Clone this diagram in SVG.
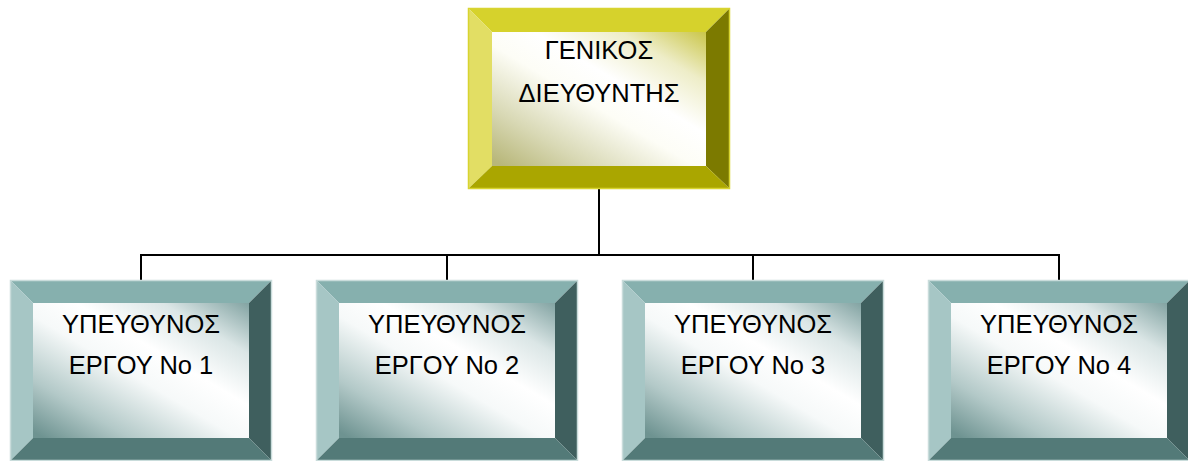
<svg xmlns="http://www.w3.org/2000/svg" width="1188" height="461" viewBox="0 0 1188 461">
  <style>
    .lbl { font-family: "Liberation Sans", "DejaVu Sans", sans-serif; font-size: 25.5px; fill: #000; text-anchor: middle; }
    .wire { fill: none; stroke: #000; stroke-width: 2; }
    .y-top { fill: #d6d22c; }
    .y-left { fill: #e2de64; }
    .y-right { fill: #7c7a00; }
    .y-bot { fill: #aaa600; }
    .y-face { fill: url(#faceYellow); }
    .y-edge { fill: none; stroke: #d8d430; stroke-width: 1.5; }
    .t-top { fill: #86b0ae; }
    .t-left { fill: #a6c6c5; }
    .t-right { fill: #3f5f5e; }
    .t-bot { fill: #537a78; }
    .t-face { fill: url(#faceTeal); }
    .t-edge { fill: none; stroke: #c9dcdb; stroke-width: 1.5; }
  </style>
  <defs>
    <!-- bevel face shading: tinted toward the upper-right and lower-left corners -->
    <linearGradient id="faceYellow" x1="0.05" y1="1" x2="1" y2="0">
      <stop offset="0" stop-color="#b8b77a"/>
      <stop offset="0.2" stop-color="#d8d8b4"/>
      <stop offset="0.45" stop-color="#fdfdf6"/>
      <stop offset="0.6" stop-color="#ffffff"/>
      <stop offset="0.8" stop-color="#eeedc8"/>
      <stop offset="1" stop-color="#cac64a"/>
    </linearGradient>
    <linearGradient id="faceTeal" x1="0.05" y1="1" x2="1" y2="0">
      <stop offset="0" stop-color="#6e9391"/>
      <stop offset="0.2" stop-color="#b3c9c8"/>
      <stop offset="0.45" stop-color="#f6f9f9"/>
      <stop offset="0.6" stop-color="#ffffff"/>
      <stop offset="0.8" stop-color="#dbe6e6"/>
      <stop offset="1" stop-color="#82a3a2"/>
    </linearGradient>
  </defs>

  <rect width="1188" height="461" fill="#ffffff"/>

  <!-- tree connectors -->
  <g id="connectors">
    <path class="wire" d="M599,189 V255"/>
    <path class="wire" d="M141,255 H1059"/>
    <path class="wire" d="M141,254 V280"/>
    <path class="wire" d="M447,254 V280"/>
    <path class="wire" d="M753,254 V280"/>
    <path class="wire" d="M1059,254 V280"/>
  </g>

  <!-- general manager -->
  <g id="node-director" transform="translate(468,8)">
    <polygon class="y-top" points="0,0 262,0 238,24 24,24"/>
    <polygon class="y-left" points="0,0 24,24 24,158 0,181"/>
    <polygon class="y-right" points="262,0 262,181 238,158 238,24"/>
    <polygon class="y-bot" points="0,181 24,158 238,158 262,181"/>
    <rect class="y-face" x="24" y="24" width="214" height="134"/>
    <rect class="y-edge" x="0.5" y="0.5" width="261" height="180"/>
    <text class="lbl" x="131" y="51">ΓΕΝΙΚΟΣ</text>
    <text class="lbl" x="131" y="94">ΔΙΕΥΘΥΝΤΗΣ</text>
  </g>

  <!-- project managers -->
  <g id="node-pm1" transform="translate(10,280)">
    <polygon class="t-top" points="0,0 262,0 239,23 23,23"/>
    <polygon class="t-left" points="0,0 23,23 23,158 0,181"/>
    <polygon class="t-right" points="262,0 262,181 239,158 239,23"/>
    <polygon class="t-bot" points="0,181 23,158 239,158 262,181"/>
    <rect class="t-face" x="23" y="23" width="216" height="135"/>
    <rect class="t-edge" x="0.5" y="0.5" width="261" height="180"/>
    <text class="lbl" x="131" y="53">ΥΠΕΥΘΥΝΟΣ</text>
    <text class="lbl" x="131" y="94">ΕΡΓΟΥ Νο 1</text>
  </g>

  <g id="node-pm2" transform="translate(316,280)">
    <polygon class="t-top" points="0,0 262,0 239,23 23,23"/>
    <polygon class="t-left" points="0,0 23,23 23,158 0,181"/>
    <polygon class="t-right" points="262,0 262,181 239,158 239,23"/>
    <polygon class="t-bot" points="0,181 23,158 239,158 262,181"/>
    <rect class="t-face" x="23" y="23" width="216" height="135"/>
    <rect class="t-edge" x="0.5" y="0.5" width="261" height="180"/>
    <text class="lbl" x="131" y="53">ΥΠΕΥΘΥΝΟΣ</text>
    <text class="lbl" x="131" y="94">ΕΡΓΟΥ Νο 2</text>
  </g>

  <g id="node-pm3" transform="translate(622,280)">
    <polygon class="t-top" points="0,0 262,0 239,23 23,23"/>
    <polygon class="t-left" points="0,0 23,23 23,158 0,181"/>
    <polygon class="t-right" points="262,0 262,181 239,158 239,23"/>
    <polygon class="t-bot" points="0,181 23,158 239,158 262,181"/>
    <rect class="t-face" x="23" y="23" width="216" height="135"/>
    <rect class="t-edge" x="0.5" y="0.5" width="261" height="180"/>
    <text class="lbl" x="131" y="53">ΥΠΕΥΘΥΝΟΣ</text>
    <text class="lbl" x="131" y="94">ΕΡΓΟΥ Νο 3</text>
  </g>

  <g id="node-pm4" transform="translate(928,280)">
    <polygon class="t-top" points="0,0 262,0 239,23 23,23"/>
    <polygon class="t-left" points="0,0 23,23 23,158 0,181"/>
    <polygon class="t-right" points="262,0 262,181 239,158 239,23"/>
    <polygon class="t-bot" points="0,181 23,158 239,158 262,181"/>
    <rect class="t-face" x="23" y="23" width="216" height="135"/>
    <rect class="t-edge" x="0.5" y="0.5" width="261" height="180"/>
    <text class="lbl" x="131" y="53">ΥΠΕΥΘΥΝΟΣ</text>
    <text class="lbl" x="131" y="94">ΕΡΓΟΥ Νο 4</text>
  </g>
</svg>
